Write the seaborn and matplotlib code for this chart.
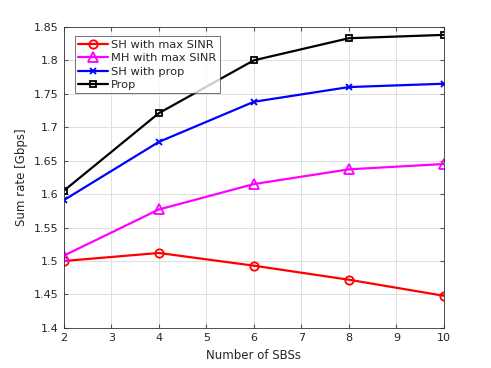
import numpy as np
import pandas as pd
import matplotlib
matplotlib.use("Agg")
import matplotlib.pyplot as plt
import seaborn as sns

# data
n_sbs = [2, 4, 6, 8, 10]
sh_max_sinr = [1.500, 1.512, 1.493, 1.472, 1.448]
mh_max_sinr = [1.508, 1.577, 1.615, 1.637, 1.645]
sh_prop = [1.591, 1.678, 1.738, 1.760, 1.765]
prop = [1.605, 1.721, 1.800, 1.833, 1.838]

sns.set_style("whitegrid")
plt.rcParams["font.family"] = ["DejaVu Sans"]

series = [
    ("SH with max SINR", sh_max_sinr, "#ff0000", "o", 6),
    ("MH with max SINR", mh_max_sinr, "#ff00ff", "^", 7),
    ("SH with prop", sh_prop, "#0000ff", "x", 5),
    ("Prop", prop, "#000000", "s", 4.5),
]

fig = plt.figure(figsize=(4.91, 3.68), dpi=100)
ax = fig.add_axes([0.130, 0.109, 0.774, 0.818])

for name, vals, col, mk, ms in series:
    df = pd.DataFrame({"x": n_sbs, "y": vals})
    sns.lineplot(data=df, x="x", y="y", ax=ax, color=col, marker=mk,
                 markersize=ms, markerfacecolor="none",
                 markeredgecolor=col, markeredgewidth=1.3, linewidth=1.6,
                 label=name)

ax.set_xlim(2, 10)
ax.set_ylim(1.4, 1.85)
ax.set_xticks(range(2, 11))
ax.set_yticks(np.arange(1.4, 1.851, 0.05))
ax.set_yticklabels(["1.4", "1.45", "1.5", "1.55", "1.6", "1.65", "1.7",
                    "1.75", "1.8", "1.85"])
ax.set_xlabel("Number of SBSs", fontsize=8.5)
ax.set_ylabel("Sum rate [Gbps]", fontsize=8.5)
ax.tick_params(labelsize=8, direction="in", length=3, color="#555555",
               top=True, right=True, bottom=True, left=True, pad=4)
ax.grid(True, color="#e0e0e0", linewidth=0.7)
for s in ax.spines.values():
    s.set_color("#333333")
    s.set_linewidth(0.6)

leg = ax.legend(loc="upper left", bbox_to_anchor=(0.02, 0.98), fontsize=8.2,
                frameon=True, fancybox=False, edgecolor="#333333",
                borderpad=0.3, labelspacing=0.3, handlelength=2.6,
                handletextpad=0.3, borderaxespad=0.3)
leg.get_frame().set_linewidth(0.6)

fig.savefig("out.png", dpi=100)
